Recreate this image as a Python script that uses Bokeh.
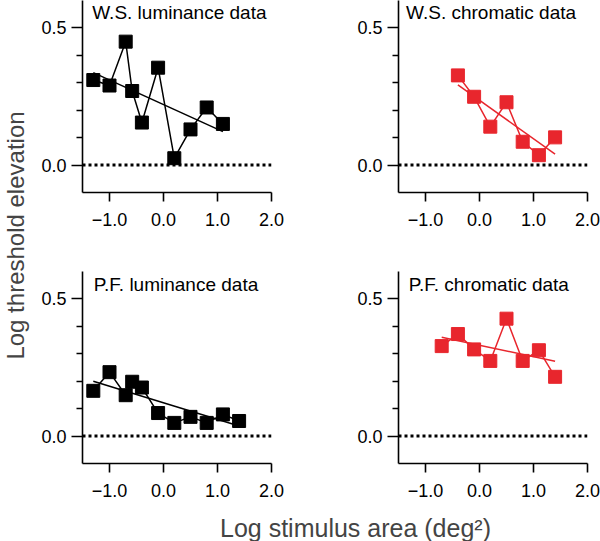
import math
from bokeh.plotting import figure
from bokeh.models import Range1d, FixedTicker, Span, Label
from bokeh.layouts import row, column
from bokeh.embed import file_html
from bokeh.resources import INLINE

# ---------------- data ----------------
ws_lum_x = [-1.3, -1.0, -0.7, -0.58, -0.4, -0.1, 0.2, 0.5, 0.8, 1.1]
ws_lum_y = [0.31, 0.29, 0.45, 0.27, 0.155, 0.355, 0.025, 0.13, 0.21, 0.15]
ws_lum_fit_x = [-1.3, 1.1]
ws_lum_fit_y = [0.337, 0.122]

ws_chr_x = [-0.4, -0.1, 0.2, 0.5, 0.8, 1.1, 1.4]
ws_chr_y = [0.327, 0.249, 0.14, 0.229, 0.085, 0.036, 0.101]
ws_chr_fit_x = [-0.4, 1.4]
ws_chr_fit_y = [0.292, 0.04]

pf_lum_x = [-1.3, -1.0, -0.7, -0.58, -0.4, -0.1, 0.2, 0.5, 0.8, 1.1, 1.4]
pf_lum_y = [0.165, 0.233, 0.149, 0.198, 0.177, 0.084, 0.048, 0.07, 0.048, 0.079, 0.055]
pf_lum_fit_x = [-1.3, 1.4]
pf_lum_fit_y = [0.2, 0.037]

pf_chr_x = [-0.7, -0.4, -0.1, 0.2, 0.5, 0.8, 1.1, 1.4]
pf_chr_y = [0.328, 0.372, 0.316, 0.274, 0.428, 0.274, 0.313, 0.216]
pf_chr_fit_x = [-0.7, 1.4]
pf_chr_fit_y = [0.36, 0.273]

zero_level = 0
x_ticks = [-1, 0, 1, 2]
x_tick_labels = ["\u22121.0", "0.0", "1.0", "2.0"]
y_ticks = [0, 0.5]
y_tick_labels = ["0.0", "0.5"]
y_minor_ticks = [0.1, 0.2, 0.3, 0.4]

titles = ["W.S. luminance data", "W.S. chromatic data",
          "P.F. luminance data", "P.F. chromatic data"]
x_label = "Log stimulus area (deg\u00b2)"
y_label = "Log threshold elevation"

FONT = "Liberation Sans"
BLACK = "#000000"
RED = "#E8262D"


def panel(xs, ys, fx, fy, color, title, tx, ty, bl, bt, br, bb):
    p = figure(frame_width=189, frame_height=192,
               x_range=Range1d(-1.5, 2.0), y_range=Range1d(-0.1, 0.6),
               output_backend="svg", toolbar_location=None,
               min_border_left=bl, min_border_top=bt,
               min_border_right=br, min_border_bottom=bb)
    p.outline_line_color = None
    p.grid.visible = False
    p.background_fill_color = "white"
    p.border_fill_color = "white"

    p.add_layout(Span(location=zero_level, dimension="width",
                      line_color="black", line_dash="3 3", line_width=3))
    p.line(xs, ys, line_color=color, line_width=1.5)
    p.line(fx, fy, line_color=color, line_width=1.5)
    p.scatter(xs, ys, marker="square", size=13,
              fill_color=color, line_color=color)

    p.add_layout(Label(x=tx, y=ty, text=title, text_font=FONT,
                       text_font_size="19px", text_color="black",
                       text_align="left", text_baseline="middle"))

    for ax in (p.xaxis[0], p.yaxis[0]):
        ax.axis_line_width = 1.6
        ax.axis_line_color = "black"
        ax.major_tick_line_width = 1.6
        ax.minor_tick_line_width = 1.6
        ax.major_tick_in = 0
        ax.minor_tick_in = 0
        ax.major_label_text_font = FONT
        ax.major_label_text_font_size = "18px"
        ax.major_label_text_color = "black"

    p.xaxis.ticker = FixedTicker(ticks=x_ticks, minor_ticks=[])
    p.xaxis.major_label_overrides = dict(zip(x_ticks, x_tick_labels))
    p.xaxis.major_tick_out = 9
    p.xaxis.minor_tick_out = 0
    p.xaxis.major_label_standoff = 11

    p.yaxis.ticker = FixedTicker(ticks=y_ticks, minor_ticks=y_minor_ticks)
    p.yaxis.major_label_overrides = dict(zip(y_ticks, y_tick_labels))
    p.yaxis.major_tick_out = 11
    p.yaxis.minor_tick_out = 6
    p.yaxis.major_label_standoff = 5
    return p


p1 = panel(ws_lum_x, ws_lum_y, ws_lum_fit_x, ws_lum_fit_y, BLACK, titles[0],
           -1.32, 0.557, 52, 0, 29, 50)
p2 = panel(ws_chr_x, ws_chr_y, ws_chr_fit_x, ws_chr_fit_y, RED, titles[1],
           -1.36, 0.557, 98, 0, 13, 50)
p3 = panel(pf_lum_x, pf_lum_y, pf_lum_fit_x, pf_lum_fit_y, BLACK, titles[2],
           -1.29, 0.551, 52, 29, 29, 51)
p4 = panel(pf_chr_x, pf_chr_y, pf_chr_fit_x, pf_chr_fit_y, RED, titles[3],
           -1.31, 0.551, 98, 29, 13, 51)


def blank(w, h):
    f = figure(width=w, height=h, x_range=Range1d(0, w), y_range=Range1d(0, h),
               output_backend="svg", toolbar_location=None,
               x_axis_location=None, y_axis_location=None,
               min_border=0, min_border_left=0, min_border_right=0,
               min_border_top=0, min_border_bottom=0)
    f.outline_line_color = None
    f.grid.visible = False
    return f


ylab = blank(30, 541)
ylab.add_layout(Label(x=15, y=541 - 235, text=y_label, angle=math.pi / 2,
                      text_font=FONT, text_font_size="24px",
                      text_align="center", text_baseline="middle"))

xlab = blank(570, 27)
xlab.add_layout(Label(x=325, y=14, text=x_label,
                      text_font=FONT, text_font_size="25px",
                      text_align="center", text_baseline="middle"))

layout = row(ylab, column(row(p1, p2), row(p3, p4), xlab))

open("out.html", "w").write(file_html(layout, INLINE))
